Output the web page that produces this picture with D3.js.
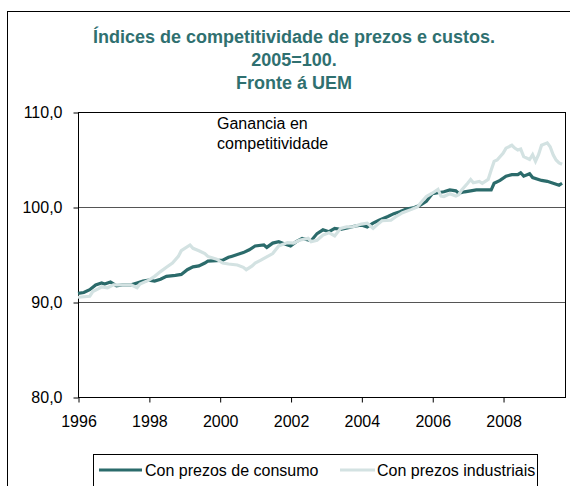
<!DOCTYPE html>
<html>
<head>
<meta charset="utf-8">
<script src="https://cdn.jsdelivr.net/npm/d3@7"></script>
<style>
  body { margin: 0; background: #fff; }
  svg text { font-family: "Liberation Sans", Arial, sans-serif; }
</style>
</head>
<body>
<svg id="chart"></svg>
<script>
const width = 570;
const height = 486;

// Series: Con prezos de consumo
const consumoDates = ["1996-01","1996-03","1996-05","1996-07","1996-09","1996-10","1996-12","1997-02","1997-04","1997-07","1997-09","1997-11",
  "1998-01","1998-03","1998-05","1998-07","1998-10","1998-12","1999-02","1999-04","1999-06","1999-08","1999-09","1999-12",
  "2000-02","2000-04","2000-05","2000-08","2000-09","2000-11","2001-01","2001-04","2001-05","2001-07","2001-09","2001-11",
  "2002-01","2002-03","2002-05","2002-08","2002-10","2002-12","2003-02","2003-04","2003-06","2003-09","2003-11",
  "2004-01","2004-03","2004-05","2004-07","2004-10","2004-12","2005-02","2005-04","2005-07","2005-09","2005-11",
  "2006-01","2006-03","2006-05","2006-07","2006-09","2006-10","2006-12","2007-02","2007-04","2007-06","2007-09","2007-10","2007-12",
  "2008-02","2008-04","2008-06","2008-07","2008-08","2008-10","2008-11","2009-02","2009-04","2009-06","2009-08","2009-09"];
const consumoValues = [90.9,91.0,91.3,91.8,92.0,91.9,92.1,91.7,91.8,91.8,92.0,92.2,
  92.3,92.2,92.4,92.7,92.8,92.9,93.4,93.7,93.8,94.1,94.3,94.35,
  94.4,94.7,94.8,95.1,95.2,95.5,95.9,96.0,95.75,96.2,96.35,96.1,
  95.9,96.35,96.7,96.45,97.2,97.6,97.4,97.75,97.65,97.85,98.0,
  98.1,97.9,98.3,98.6,99.0,99.3,99.5,99.75,99.95,100.2,100.6,
  101.4,101.5,101.6,101.8,101.7,101.45,101.6,101.7,101.8,101.8,101.8,102.5,102.8,
  103.25,103.4,103.4,103.6,103.25,103.5,103.1,102.8,102.7,102.5,102.3,102.5];

// Series: Con prezos industriais
const industriaisDates = ["1996-01","1996-05","1996-06","1996-08","1996-09","1996-11","1997-01","1997-07","1997-09","1997-10",
  "1998-01","1998-03","1998-05","1998-07","1998-09","1998-11","1998-12","1999-03","1999-04","1999-06","1999-08","1999-09","1999-12",
  "2000-02","2000-04","2000-07","2000-09","2000-10","2000-12","2001-01","2001-03","2001-07","2001-09","2001-12",
  "2002-02","2002-04","2002-07","2002-08","2002-10","2002-12","2003-02","2003-04","2003-06","2003-08","2003-10",
  "2004-01","2004-03","2004-05","2004-07","2004-08","2004-11","2005-01","2005-03","2005-06","2005-08","2005-09","2005-11",
  "2006-01","2006-03","2006-04","2006-05","2006-07","2006-09","2006-10","2006-11","2007-01","2007-02","2007-03","2007-05","2007-06",
  "2007-08","2007-09","2007-10","2007-11","2008-01","2008-02","2008-04","2008-05","2008-06","2008-07","2008-08","2008-10","2008-11",
  "2008-12","2009-01","2009-02","2009-04","2009-05","2009-06","2009-07","2009-08","2009-09"];
const industriaisValues = [90.5,90.6,91.1,91.4,91.6,91.5,91.8,91.8,91.5,91.9,
  92.3,92.7,93.2,93.65,94.1,94.8,95.4,96.0,95.65,95.4,95.1,94.8,94.5,
  94.1,94.0,93.9,93.65,93.4,93.8,94.1,94.4,95.1,95.9,96.25,
  96.2,96.5,96.7,96.35,96.5,97.05,97.3,96.95,97.75,97.9,97.9,
  98.2,98.3,97.75,98.3,98.55,98.6,99.05,99.4,99.75,100.0,100.4,101.1,
  101.45,101.85,101.15,101.1,101.4,101.15,101.3,101.8,102.5,102.9,102.55,102.7,102.5,
  102.9,103.9,104.8,104.95,105.65,106.2,106.5,106.2,106.0,106.1,105.3,105.0,105.5,
  104.8,105.5,106.5,106.75,106.35,105.5,104.95,104.65,104.5];

const yTicks = [80, 90, 100, 110];
const xTickYears = [1996, 1998, 2000, 2002, 2004, 2006, 2008];
const titleLines = ["Índices de competitividade de prezos e custos.", "2005=100.", "Fronte á UEM"];
const noteLines = ["Ganancia en", "competitividade"];
const seriesNames = ["Con prezos de consumo", "Con prezos industriais"];

const darkColor = '#2b6b6b';
const lightColor = '#d3e2e2';
const titleColor = '#2f7070';

const parseMonth = d3.timeParse('%Y-%m');

const svg = d3.select('#chart')
    .attr('width', width)
    .attr('height', height);

// Outer chart frame (runs off the window on right and bottom)
svg.append('rect')
    .attr('x', 7.5).attr('y', 11.5)
    .attr('width', 600).attr('height', 520)
    .attr('fill', 'none').attr('stroke', '#000');

const margin = { left: 78, top: 112, right: 565, bottom: 397 };

const x = d3.scaleTime()
    .domain([new Date(1996, 0, 1), new Date(2009, 9, 1)])
    .range([margin.left, margin.right]);

const y = d3.scaleLinear()
    .domain([80, 110])
    .range([margin.bottom, margin.top]);

// Title
svg.append('g')
    .selectAll('text')
    .data(titleLines)
    .join('text')
    .attr('x', 294)
    .attr('y', (d, i) => 43 + i * 23)
    .attr('text-anchor', 'middle')
    .attr('font-size', 18)
    .attr('font-weight', 'bold')
    .attr('fill', titleColor)
    .text(d => d);

// Gridlines
svg.append('g')
    .selectAll('line')
    .data([90, 100])
    .join('line')
    .attr('x1', margin.left).attr('x2', margin.right)
    .attr('y1', d => Math.round(y(d)) + 0.5).attr('y2', d => Math.round(y(d)) + 0.5)
    .attr('stroke', '#555').attr('stroke-width', 1);

// Plot border
svg.append('rect')
    .attr('x', margin.left + 0.5).attr('y', margin.top + 0.5)
    .attr('width', margin.right - margin.left).attr('height', margin.bottom - margin.top)
    .attr('fill', 'none').attr('stroke', '#000');

// Axes
const yAxis = d3.axisLeft(y)
    .tickValues(yTicks)
    .tickSize(5)
    .tickFormat(d => d3.format('.1f')(d).replace('.', ','));
const yg = svg.append('g')
    .attr('transform', `translate(${margin.left + 0.5},0.5)`)
    .call(yAxis);
yg.select('.domain').remove();
yg.selectAll('text').attr('font-size', 16).attr('fill', '#000').attr('x', -16)
    .style('font-family', '"Liberation Sans", Arial, sans-serif');

const xAxis = d3.axisBottom(x)
    .tickValues(xTickYears.map(yr => new Date(yr, 0, 1)))
    .tickSize(5)
    .tickFormat(d3.timeFormat('%Y'));
const xg = svg.append('g')
    .attr('transform', `translate(0.5,${margin.bottom + 0.5})`)
    .call(xAxis);
xg.select('.domain').remove();
xg.selectAll('text').attr('font-size', 16).attr('fill', '#000').attr('y', 29).attr('dy', 0)
    .style('font-family', '"Liberation Sans", Arial, sans-serif');

// Lines
const line = d3.line()
    .x(d => x(d.date))
    .y(d => y(d.value));

const consumo = consumoDates.map((d, i) => ({ date: parseMonth(d), value: consumoValues[i] }));
const industriais = industriaisDates.map((d, i) => ({ date: parseMonth(d), value: industriaisValues[i] }));

svg.append('path')
    .datum(consumo)
    .attr('d', line)
    .attr('fill', 'none')
    .attr('stroke', darkColor)
    .attr('stroke-width', 3.2);

svg.append('path')
    .datum(industriais)
    .attr('d', line)
    .attr('fill', 'none')
    .attr('stroke', lightColor)
    .attr('stroke-width', 3.2);

// Annotation
svg.append('g')
    .selectAll('text')
    .data(noteLines)
    .join('text')
    .attr('x', 217)
    .attr('y', (d, i) => 129 + i * 20)
    .attr('font-size', 16)
    .attr('fill', '#000')
    .text(d => d);

// Legend
const legend = svg.append('g');
legend.append('rect')
    .attr('x', 93.5).attr('y', 454.5)
    .attr('width', 444).attr('height', 60)
    .attr('fill', '#fff').attr('stroke', '#000');

const legendItems = [
    { name: seriesNames[0], color: darkColor, x1: 99, x2: 142, tx: 145 },
    { name: seriesNames[1], color: lightColor, x1: 340, x2: 375, tx: 377 }
];
legendItems.forEach(it => {
    legend.append('line')
        .attr('x1', it.x1).attr('x2', it.x2)
        .attr('y1', 470).attr('y2', 470)
        .attr('stroke', it.color).attr('stroke-width', 3);
    legend.append('text')
        .attr('x', it.tx).attr('y', 476)
        .attr('font-size', 16)
        .attr('fill', '#000')
        .text(it.name);
});
</script>
</body>
</html>
